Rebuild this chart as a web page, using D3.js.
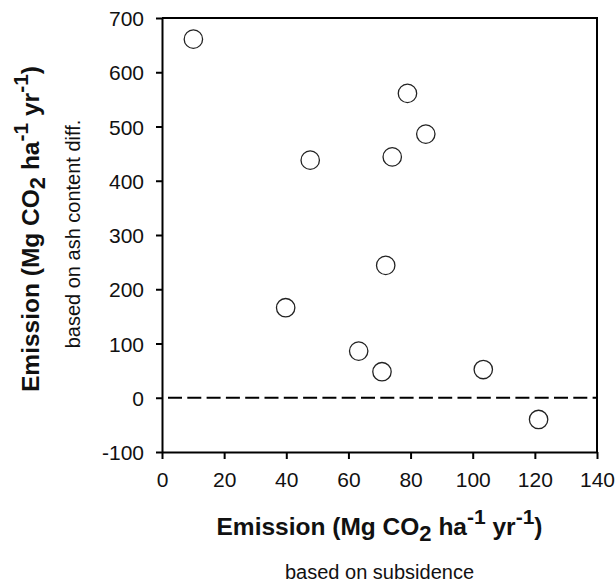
<!DOCTYPE html>
<html lang="en">
	<head>
		<meta charset="UTF-8"/>
		<title>Emission scatter</title>
		<script type="text/javascript" src="https://cdn.jsdelivr.net/npm/d3@7/dist/d3.min.js"></script>
		<style>
			body { margin: 0; background: #fff; }
			text { font-family: "Liberation Sans", Arial, sans-serif; }
		</style>
	</head>
	<body>
		<script type="text/javascript">
			var w = 615;
			var h = 584;

			// emission based on subsidence (x) vs based on ash content diff. (y)
			var subsidence = [10.1, 39.8, 47.7, 63.3, 70.8, 72.0, 74.1, 79.0, 84.9, 103.4, 121.2];
			var ashContent = [661, 166, 438, 86, 48, 244, 444, 561, 486, 52, -40];

			var xTicks = [0, 20, 40, 60, 80, 100, 120, 140];
			var yTicks = [-100, 0, 100, 200, 300, 400, 500, 600, 700];

			var plotLeft = 162, plotRight = 597, plotTop = 18, plotBottom = 452;

			var xScale = d3.scaleLinear()
				.domain([0, 140])
				.range([plotLeft, plotRight]);

			var yScale = d3.scaleLinear()
				.domain([-100, 700])
				.range([plotBottom, plotTop]);

			var svg = d3.select("body")
				.append("svg")
				.attr("width", w)
				.attr("height", h);

			// Axes (plain hyphen for negatives, like the original)
			var xAxis = svg.append("g")
				.attr("transform", "translate(0," + plotBottom + ")")
				.call(d3.axisBottom(xScale).tickValues(xTicks).tickFormat(String)
					.tickSizeInner(7).tickSizeOuter(0).tickPadding(13));

			var yAxis = svg.append("g")
				.attr("transform", "translate(" + plotLeft + ",0)")
				.call(d3.axisLeft(yScale).tickValues(yTicks).tickFormat(String)
					.tickSizeInner(6).tickSizeOuter(0).tickPadding(12));

			[xAxis, yAxis].forEach(function(a) {
				a.select(".domain").attr("stroke-width", 2).attr("stroke", "#000");
				a.selectAll(".tick line").attr("stroke-width", 2).attr("stroke", "#000");
				a.selectAll(".tick text")
					.attr("font-family", "Liberation Sans, Arial, sans-serif")
					.attr("font-size", "21px")
					.attr("fill", "#111");
			});
			yAxis.selectAll(".tick text").attr("dy", "0.36em");

			// Frame top and right
			svg.append("path")
				.attr("d", "M" + plotLeft + "," + plotTop + "H" + plotRight + "V" + plotBottom)
				.attr("fill", "none")
				.attr("stroke", "#000")
				.attr("stroke-width", 2);

			// Zero reference line
			svg.append("line")
				.attr("x1", xScale(0))
				.attr("x2", xScale(140))
				.attr("y1", yScale(0))
				.attr("y2", yScale(0))
				.attr("stroke", "#000")
				.attr("stroke-width", 2.2)
				.attr("stroke-dasharray", "14,5.3")
				.attr("stroke-dashoffset", -6);

			// Points
			svg.selectAll("circle")
				.data(subsidence)
				.enter()
				.append("circle")
				.attr("cx", function(d) { return xScale(d); })
				.attr("cy", function(d, i) { return yScale(ashContent[i]); })
				.attr("r", 9.2)
				.attr("fill", "#fff")
				.attr("stroke", "#222")
				.attr("stroke-width", 1.3);

			// Axis titles
			function title(sel) {
				sel.attr("font-weight", "bold").attr("font-size", "24.5px").attr("fill", "#111");
				sel.append("tspan").text("Emission (Mg CO");
				sel.append("tspan").text("2").attr("dy", 6).attr("font-size", "22px");
				sel.append("tspan").text(" ha").attr("dy", -6);
				sel.append("tspan").text("-1").attr("dy", -11).attr("font-size", "21px");
				sel.append("tspan").text(" yr").attr("dy", 11);
				sel.append("tspan").text("-1").attr("dy", -11).attr("font-size", "21px");
				sel.append("tspan").text(")").attr("dy", 11);
			}

			svg.append("text")
				.attr("x", (plotLeft + plotRight) / 2)
				.attr("y", 535)
				.attr("text-anchor", "middle")
				.call(title);

			svg.append("text")
				.attr("x", (plotLeft + plotRight) / 2)
				.attr("y", 579)
				.attr("text-anchor", "middle")
				.attr("font-size", "20px")
				.attr("fill", "#111")
				.text("based on subsidence");

			svg.append("text")
				.attr("transform", "translate(39," + 229 + ") rotate(-90)")
				.attr("text-anchor", "middle")
				.call(title);

			svg.append("text")
				.attr("transform", "translate(80," + 234 + ") rotate(-90)")
				.attr("text-anchor", "middle")
				.attr("font-size", "20px")
				.attr("fill", "#111")
				.text("based on ash content diff.");
		</script>
	</body>
</html>
